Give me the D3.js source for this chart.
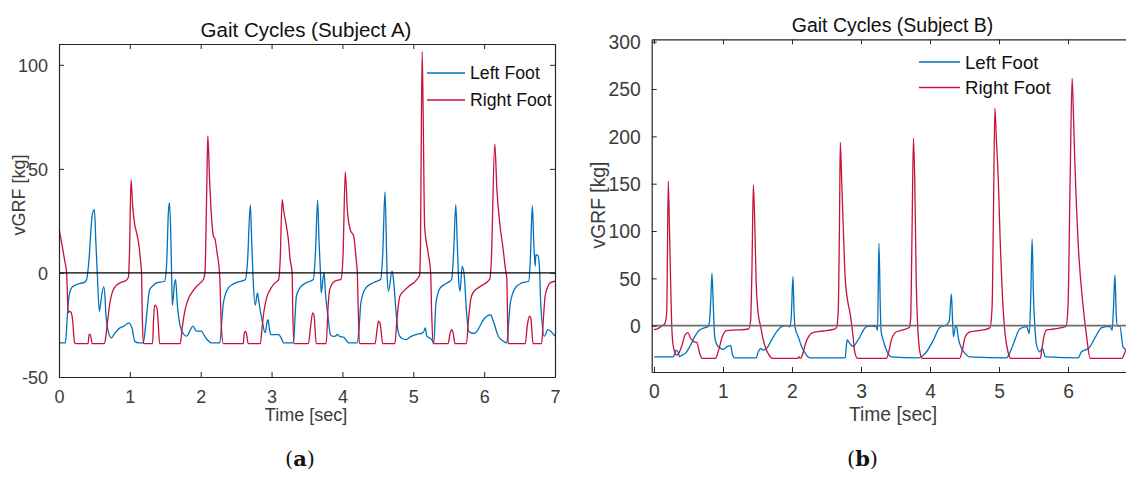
<!DOCTYPE html>
<html>
<head>
<meta charset="utf-8">
<script src="https://cdn.jsdelivr.net/npm/d3@7"></script>
<style>
  html, body { margin: 0; padding: 0; background: #fff; }
  svg { display: block; }
  text { font-family: "Liberation Sans", Arial, sans-serif; }
</style>
</head>
<body>
<svg id="fig" width="1126" height="478"></svg>
<script>
// ---- Subject A: vertical ground reaction force, [time (s), force (kg)] ----
const subjectALeft = [
  [0,-33.6],[0.09,-33.6],[0.11,-25],[0.12,-19],[0.15,-9.6],[0.18,-7],[0.22,-6],[0.30,-5],[0.36,-4.5],[0.39,-3.2],
  [0.42,5],[0.47,28],[0.50,30.4],[0.52,15],[0.54,0],[0.57,-18.5],[0.59,-14],[0.63,-6.6],[0.65,-12],[0.66,-19.2],
  [0.70,-28.8],[0.74,-31.2],[0.79,-28.8],[0.86,-26.4],[0.92,-25.5],[0.98,-24],[1.03,-26.4],[1.07,-32.8],[1.12,-33.6],
  [1.19,-33.6],[1.22,-26],[1.24,-19.2],[1.28,-8],[1.33,-6],[1.38,-4.8],[1.49,-4],[1.52,5],[1.545,30],[1.56,33.6],
  [1.58,15],[1.59,-1.6],[1.60,-15.5],[1.63,-5],[1.645,-3.2],[1.67,-15],[1.71,-25.6],[1.76,-29.5],[1.80,-30.4],
  [1.86,-27],[1.89,-25.6],[1.94,-28],[2.01,-28],[2.05,-30],[2.09,-32],[2.15,-33.6],[2.27,-33.6],[2.30,-22],
  [2.32,-14.4],[2.39,-7.2],[2.45,-5.5],[2.51,-4.5],[2.63,-3.2],[2.66,5],[2.70,32.8],[2.72,15],[2.74,-3.2],
  [2.77,-15.5],[2.80,-9.6],[2.83,-16],[2.86,-21.6],[2.91,-28.8],[2.94,-23],[2.95,-22.4],[2.97,-27],[2.99,-29.6],
  [3.10,-29.6],[3.14,-31.5],[3.17,-33.6],[3.31,-33.6],[3.33,-22],[3.35,-11.2],[3.40,-7.2],[3.50,-4.5],[3.59,-3.2],
  [3.62,10],[3.65,34.9],[3.67,15],[3.69,0],[3.70,-9.6],[3.74,0.3],[3.76,-9.6],[3.80,-22],[3.83,-29.6],[3.87,-30.5],
  [3.90,-30.4],[3.93,-29.5],[3.96,-30.5],[4.02,-31],[4.09,-33.6],[4.21,-33.6],[4.24,-24],[4.26,-14.4],[4.33,-7.2],
  [4.45,-4.5],[4.54,-3],[4.57,10],[4.60,38.9],[4.62,15],[4.63,0],[4.65,-8.8],[4.70,1],[4.72,-3],[4.76,-20],
  [4.79,-28.8],[4.84,-31.5],[4.90,-32],[4.97,-30.5],[5.04,-29.6],[5.13,-28.8],[5.15,-28],[5.17,-26.4],[5.19,-30.4],
  [5.26,-32],[5.29,-33.6],[5.32,-14.4],[5.38,-7.2],[5.47,-5],[5.54,-3.2],[5.57,10],[5.60,32.8],[5.62,15],[5.64,-3.2],
  [5.66,-8.8],[5.69,3.2],[5.72,-1.5],[5.75,-18],[5.78,-28],[5.85,-29.1],[5.90,-28],[5.94,-25.6],[6.00,-22],
  [6.04,-20.8],[6.09,-20.1],[6.13,-23.2],[6.20,-30.4],[6.26,-32.5],[6.32,-33.6],[6.35,-22],[6.37,-14.4],[6.44,-7.2],
  [6.53,-4.8],[6.63,-4],[6.65,5],[6.68,32.3],[6.70,15],[6.72,3.2],[6.73,8.8],[6.76,8.3],[6.78,3.2],[6.80,-15.5],
  [6.85,-30.4],[6.90,-27.2],[6.94,-28],[7.0,-30.4]
];
const subjectARight = [
  [0,21.5],[0.04,14],[0.08,6],[0.108,0],[0.12,-12],[0.13,-19],[0.15,-18.5],[0.17,-19],[0.19,-22],[0.22,-33.5],[0.24,-34],
  [0.41,-34],[0.425,-29.5],[0.44,-29.5],[0.47,-34],
  [0.64,-34],[0.67,-28],[0.69,-22],[0.72,-14],[0.76,-8.5],[0.81,-6],[0.86,-4.8],[0.95,-3.5],[0.98,-2],[0.995,10],
  [1.016,44.8],[1.04,32],[1.07,23],[1.09,20],[1.13,12.8],[1.15,6],[1.165,0],[1.175,-20],[1.19,-34],
  [1.32,-34],[1.335,-22],[1.35,-15.5],[1.38,-16.5],[1.40,-24],[1.42,-34],
  [1.71,-34],[1.74,-26],[1.78,-17.6],[1.83,-12],[1.87,-9.7],[1.94,-6.5],[1.99,-4.9],[2.04,-2.9],[2.06,0],[2.085,40],
  [2.10,65.9],[2.125,45],[2.15,28],[2.18,17.6],[2.20,16.5],[2.23,10],[2.27,-2.7],[2.29,-25],[2.32,-34],
  [2.60,-34],[2.615,-29],[2.63,-28],[2.645,-29],[2.67,-34],
  [2.84,-34],[2.87,-25],[2.89,-19],[2.93,-12],[2.98,-8],[3.04,-5],[3.10,-3.2],[3.12,5],[3.15,35.2],[3.17,30],
  [3.21,22.4],[3.24,15],[3.26,7],[3.29,0],[3.30,-20],[3.32,-34],
  [3.52,-34],[3.55,-26],[3.58,-19.2],[3.60,-20.5],[3.63,-34],
  [3.77,-34],[3.80,-15],[3.82,-8],[3.89,-4],[3.98,-3],[4.01,10],[4.04,48.6],[4.07,30],[4.11,20.8],[4.16,17.6],
  [4.19,8],[4.21,0],[4.225,-20],[4.24,-34],
  [4.46,-34],[4.49,-27],[4.51,-23.2],[4.53,-24],[4.57,-34],
  [4.74,-34],[4.77,-22],[4.81,-11.2],[4.87,-8.5],[4.93,-6.6],[5.05,-3.2],[5.09,-1],[5.10,10],[5.125,106.4],
  [5.14,75],[5.16,22.4],[5.21,9.6],[5.245,0],[5.26,-20],[5.28,-34],
  [5.49,-34],[5.52,-29],[5.54,-27.2],[5.56,-28.5],[5.59,-34],
  [5.75,-34],[5.78,-22],[5.82,-11.2],[5.88,-8],[5.94,-6.6],[6.08,-3],[6.10,5],[6.15,62],[6.18,40],[6.22,24],
  [6.27,10.9],[6.30,2],[6.32,-2.7],[6.33,-20],[6.34,-34],
  [6.58,-34],[6.61,-25],[6.64,-20.8],[6.66,-22],[6.69,-34],
  [6.81,-34],[6.84,-20],[6.86,-11.2],[6.90,-6.5],[6.93,-4.8],[7.0,-4]
];

// ---- Subject B ----
const subjectBLeft = [
  [0,-33],[0.28,-33],[0.30,-29.5],[0.32,-25.7],[0.35,-28],[0.37,-32.7],[0.41,-31],[0.45,-29.5],[0.52,-22],
  [0.59,-11.6],[0.66,-4.6],[0.74,-2],[0.78,-1],[0.80,2],[0.825,30],[0.84,55.3],[0.86,20],[0.88,-11.6],[0.91,-20],
  [0.96,-23.5],[1.0,-25],[1.07,-21.5],[1.11,-21],[1.14,-31],[1.17,-34],[1.48,-34],[1.51,-28],[1.546,-23.9],
  [1.584,-25.7],[1.633,-23.9],[1.705,-15],[1.778,-6.3],[1.85,-1],[1.92,0],[1.97,-1],[1.99,10],[2.014,51.8],
  [2.03,15],[2.043,-1],[2.09,-11.6],[2.14,-22],[2.19,-29],[2.26,-34],[2.77,-34],[2.79,-20],[2.80,-15],[2.84,-19],
  [2.89,-22],[2.94,-17],[2.985,-11.6],[3.01,-8],[3.08,-1],[3.13,-0.5],[3.22,-1],[3.24,-5],[3.26,87],[3.28,20],
  [3.29,-5],[3.32,-15],[3.37,-26],[3.44,-33],[3.81,-34],[3.88,-32.5],[3.95,-27.5],[4.05,-15],[4.14,-2],[4.24,1],
  [4.28,5],[4.31,33.5],[4.33,0],[4.34,-11.6],[4.37,-1],[4.39,-1.5],[4.40,-8],[4.43,-19],[4.51,-29.5],[4.58,-33],
  [5.11,-34],[5.16,-28],[5.21,-19],[5.30,-3.5],[5.40,-1],[5.44,-8.1],[5.46,30],[5.48,91.3],[5.50,30],[5.52,-1],
  [5.54,-18.6],[5.59,-27.5],[5.63,-23.9],[5.67,-32.7],[5.71,-33],[6.15,-34],[6.19,-28],[6.31,-23],[6.40,-11.6],
  [6.49,-2],[6.61,-0.7],[6.64,-5],[6.66,20],[6.68,53.5],[6.70,10],[6.72,-0.5],[6.75,-0.2],[6.80,-23],[6.86,-26]
];
const subjectBRight = [
  [0,-4],[0.04,-3.5],[0.08,-2],[0.12,0],[0.16,2.5],[0.185,15],[0.207,152.8],[0.225,100],[0.24,50],[0.256,2.5],
  [0.28,-22],[0.33,-31],[0.36,-29],[0.40,-22],[0.45,-9.8],[0.49,-7.4],[0.53,-13],[0.58,-17],[0.62,-17.5],[0.67,-31],
  [0.70,-34.5],[0.89,-34.5],[0.94,-25],[0.99,-11.6],[1.06,-5],[1.2,-4.5],[1.37,-3.5],[1.40,5],[1.42,60],[1.44,148.6],
  [1.46,110],[1.48,48],[1.51,13],[1.55,-2],[1.58,-14],[1.62,-24],[1.66,-30],[1.71,-34.5],[2.08,-34.5],[2.10,-33],
  [2.12,-34.5],[2.14,-33],[2.17,-26],[2.20,-18],[2.24,-11.6],[2.31,-7],[2.45,-5.6],[2.60,-4],[2.645,-2],[2.67,15],
  [2.69,120],[2.70,193.7],[2.72,154],[2.745,100],[2.77,52],[2.81,25],[2.84,14],[2.88,-8],[2.91,-28],[2.95,-34.5],
  [3.37,-34.5],[3.41,-25],[3.44,-15],[3.51,-6.6],[3.61,-4.5],[3.70,-2],[3.72,8],[3.74,100],[3.76,197.9],[3.78,150],
  [3.80,48],[3.82,2.5],[3.86,-30],[3.89,-34.5],[4.43,-34.5],[4.47,-25],[4.51,-12],[4.58,-6.6],[4.77,-4.5],[4.87,-2],
  [4.90,20],[4.92,120],[4.94,229.6],[4.96,200],[4.99,154],[5.02,83.5],[5.05,30.6],[5.08,-2],[5.13,-27.5],[5.17,-34.5],
  [5.60,-34.5],[5.62,-25.7],[5.65,-12],[5.69,-4.5],[5.79,-3.5],[5.97,-0.7],[6.0,20],[6.03,150],[6.06,261.3],
  [6.08,220],[6.10,171.5],[6.15,83.5],[6.22,20],[6.27,-11.6],[6.32,-34.5],[6.78,-34.5],[6.84,-25.7],[6.86,-24]
];

// ---- Axis ticks and labels ----
const ticksAX = [0, 1, 2, 3, 4, 5, 6, 7];
const ticksAY = [-50, 0, 50, 100];
const ticksBX = [0, 1, 2, 3, 4, 5, 6];
const ticksBY = [0, 50, 100, 150, 200, 250, 300];
const seriesNames = ["Left Foot", "Right Foot"];
const titles = ["Gait Cycles (Subject A)", "Gait Cycles (Subject B)"];
const xLabel = "Time [sec]";
const yLabel = "vGRF [kg]";
const captions = ["a", "b"];

const BLUE = "#0072BD";
const RED = "#C8103A";
const AXIS = "#262626";
const TICKTXT = "#3c3c3c";

// integer tick labels with a plain hyphen for negatives
const fmtInt = d => String(Math.round(d));

const svg = d3.select("#fig");

function drawPanel(cfg) {
  const g = svg.append("g");
  const x = d3.scaleLinear().domain(cfg.xDomain).range([cfg.left, cfg.right]);
  const y = d3.scaleLinear().domain(cfg.yDomain).range([cfg.bottom, cfg.top]);
  const fs = cfg.fontSize;
  const clipId = "clip-" + cfg.id;

  svg.append("defs").append("clipPath").attr("id", clipId)
    .append("rect")
    .attr("x", cfg.left).attr("y", cfg.top)
    .attr("width", cfg.right - cfg.left).attr("height", cfg.bottom - cfg.top);

  // data lines
  const line = d3.line().x(d => x(d[0])).y(d => y(d[1])).curve(d3.curveMonotoneX);
  const plot = g.append("g").attr("clip-path", `url(#${clipId})`);
  plot.append("path").datum(cfg.left0).attr("d", line)
    .attr("fill", "none").attr("stroke", BLUE).attr("stroke-width", 1.3).attr("stroke-linejoin", "round");
  plot.append("path").datum(cfg.right0).attr("d", line)
    .attr("fill", "none").attr("stroke", RED).attr("stroke-width", 1.3).attr("stroke-linejoin", "round");

  // zero reference line
  plot.append("line")
    .attr("x1", cfg.left).attr("x2", cfg.right)
    .attr("y1", y(0)).attr("y2", y(0))
    .attr("stroke", cfg.zeroColor).attr("stroke-width", cfg.zeroWidth);

  // axes with inward ticks
  const tl = 5;
  const bottomAxis = d3.axisBottom(x).tickValues(cfg.xTicks).tickSizeInner(-tl).tickSizeOuter(0)
    .tickPadding(tl + 9).tickFormat(fmtInt);
  const topAxis = d3.axisTop(x).tickValues(cfg.xTicks).tickSizeInner(-tl).tickSizeOuter(0).tickFormat("");
  const leftAxis = d3.axisLeft(y).tickValues(cfg.yTicks).tickSizeInner(-tl).tickSizeOuter(0)
    .tickPadding(tl + 6).tickFormat(fmtInt);

  const gb = g.append("g").attr("transform", `translate(0,${cfg.bottom})`).call(bottomAxis);
  const gt = g.append("g").attr("transform", `translate(0,${cfg.top})`).call(topAxis);
  const gl = g.append("g").attr("transform", `translate(${cfg.left},0)`).call(leftAxis);
  const axes = [gb, gt, gl];
  if (cfg.rightBorder) {
    const rightAxis = d3.axisRight(y).tickValues(cfg.yTicks).tickSizeInner(-tl).tickSizeOuter(0).tickFormat("");
    axes.push(g.append("g").attr("transform", `translate(${cfg.right},0)`).call(rightAxis));
  }
  axes.forEach(a => {
    a.select(".domain").attr("stroke", AXIS).attr("stroke-width", 1.2);
    a.selectAll(".tick line").attr("stroke", AXIS).attr("stroke-width", 1);
    a.selectAll(".tick text").attr("fill", TICKTXT)
      .style("font-family", "'Liberation Sans', Arial, sans-serif").style("font-size", fs + "px");
  });
  gb.selectAll(".tick text").attr("dy", null).attr("y", cfg.xTickBaseline - cfg.bottom)
    .attr("dominant-baseline", "auto");
  gl.selectAll(".tick text").attr("dy", "0.36em");

  // title
  g.append("text").attr("x", cfg.titleX).attr("y", cfg.titleY)
    .attr("text-anchor", "middle").attr("fill", "#111")
    .style("font-size", cfg.titleSize + "px").text(cfg.title);

  // axis labels
  g.append("text").attr("x", cfg.xLabelX).attr("y", cfg.xLabelY)
    .attr("text-anchor", "middle").attr("fill", TICKTXT)
    .style("font-size", fs + "px").text(xLabel);
  g.append("text")
    .attr("transform", `translate(${cfg.yLabelX},${cfg.yLabelY}) rotate(-90)`)
    .attr("text-anchor", "middle").attr("fill", TICKTXT)
    .style("font-size", fs + "px").text(yLabel);

  // legend
  const colors = [BLUE, RED];
  seriesNames.forEach((name, i) => {
    const ly = cfg.legendY + i * cfg.legendStep;
    g.append("line").attr("x1", cfg.legendX0).attr("x2", cfg.legendX1)
      .attr("y1", ly).attr("y2", ly).attr("stroke", colors[i]).attr("stroke-width", 1.3);
    g.append("text").attr("x", cfg.legendX1 + 5).attr("y", ly + fs * 0.36)
      .attr("fill", "#111").style("font-size", cfg.legendSize + "px").text(name);
  });

  // caption under the panel
  const cap = g.append("text").attr("x", cfg.captionX).attr("y", 466)
    .attr("text-anchor", "middle").attr("fill", "#111")
    .style("font-family", "'DejaVu Serif', 'Liberation Serif', serif").style("font-size", "21px");
  cap.append("tspan").text("(");
  cap.append("tspan").attr("font-weight", "bold").text(cfg.caption);
  cap.append("tspan").text(")");
}

drawPanel({
  id: "a", left0: subjectALeft, right0: subjectARight,
  xDomain: [0, 7], yDomain: [-50, 110],
  left: 59, right: 555, top: 44, bottom: 377,
  xTicks: ticksAX, yTicks: ticksAY, rightBorder: true,
  fontSize: 18, titleSize: 20.5, legendSize: 17.7,
  xTickBaseline: 403,
  zeroColor: "#000", zeroWidth: 1.2,
  title: titles[0], titleX: 306, titleY: 36.5,
  xLabelX: 306, xLabelY: 421, yLabelX: 25, yLabelY: 195,
  legendX0: 427, legendX1: 465, legendY: 73, legendStep: 27,
  caption: captions[0], captionX: 300
});

drawPanel({
  id: "b", left0: subjectBLeft, right0: subjectBRight,
  xDomain: [-0.033, 7], yDomain: [-48.9, 302.5],
  left: 651.7, right: 1137, top: 39.3, bottom: 372,
  xTicks: ticksBX, yTicks: ticksBY, rightBorder: false,
  fontSize: 19.3, titleSize: 19.5, legendSize: 18.6,
  xTickBaseline: 398,
  zeroColor: "#6e6e6e", zeroWidth: 1.8,
  title: titles[1], titleX: 892.5, titleY: 32,
  xLabelX: 893, xLabelY: 421, yLabelX: 605, yLabelY: 205,
  legendX0: 919, legendX1: 960, legendY: 62, legendStep: 25.5,
  caption: captions[1], captionX: 862.5
});
</script>
</body>
</html>
